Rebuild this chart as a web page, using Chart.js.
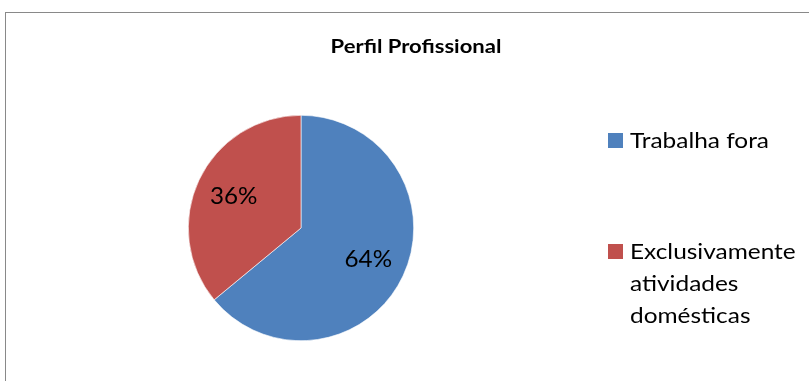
<!DOCTYPE html>
<html>
<head>
<meta charset="utf-8">
<script src="https://cdn.jsdelivr.net/npm/chart.js@4/dist/chart.umd.min.js"></script>
<style>
  html, body { margin: 0; padding: 0; background: #fff; }
  body { width: 809px; height: 381px; position: relative; overflow: hidden; font-family: Lato, "Open Sans", sans-serif; }
  #frame { position: absolute; left: 5px; top: 12px; width: 830px; height: 400px; border: 1px solid #898989; box-sizing: border-box; }
  #chart { position: absolute; left: 0; top: 0; width: 809px; height: 381px; }
  #title { position: absolute; left: 0; width: 832px; top: 34px; text-align: center; font-weight: bold; font-size: 19.5px; color: #000; transform: scaleX(1.13); transform-origin: 416px 0; }
  #legend { position: absolute; left: 608px; top: 0; }
  .item { position: absolute; white-space: nowrap; font-size: 22px; line-height: 32px; color: #000; }
  .box { position: absolute; left: 0; width: 15px; height: 15px; }
  .txt { position: absolute; left: 22px; top: 0; transform: scaleX(1.11); transform-origin: 0 0; }
</style>
</head>
<body>
<div id="frame"></div>
<div id="chart"><canvas id="pie" width="809" height="381"></canvas></div>
<div id="title"></div>
<div id="legend"></div>
<script>
    // ------------------------------------------------------------------
    // Data
    // ------------------------------------------------------------------
    const chartTitle = 'Perfil Profissional';
    const categories = ['Trabalha fora', 'Exclusivamente atividades domésticas'];
    const legendLines = [['Trabalha fora'], ['Exclusivamente', 'atividades', 'domésticas']];
    const shares = [64, 36];
    const colors = ['#4F81BD', '#C0504D'];

    // ------------------------------------------------------------------
    // Percent labels inside the slices
    // ------------------------------------------------------------------
    const sliceLabels = {
        id: 'sliceLabels',
        afterDatasetsDraw(chart) {
            const ctx = chart.ctx;
            const meta = chart.getDatasetMeta(0);
            const total = shares.reduce((a, b) => a + b, 0);
            meta.data.forEach((arc, i) => {
                const p = arc.getProps(['x', 'y', 'startAngle', 'endAngle', 'outerRadius'], true);
                const mid = (p.startAngle + p.endAngle) / 2;
                const r = p.outerRadius * 0.66;
                const pct = Math.round(shares[i] / total * 100) + '%';
                ctx.save();
                ctx.translate(p.x + Math.cos(mid) * r, p.y + Math.sin(mid) * r);
                ctx.scale(1.03, 1);
                ctx.font = '23.5px Lato, "Open Sans", sans-serif';
                ctx.fillStyle = '#000';
                ctx.textAlign = 'center';
                ctx.textBaseline = 'middle';
                ctx.fillText(pct, 0, 0);
                ctx.restore();
            });
        }
    };

    new Chart(document.getElementById('pie'), {
        type: 'pie',
        data: {
            labels: categories,
            datasets: [{
                data: shares,
                backgroundColor: colors,
                borderColor: '#ffffff',
                borderWidth: 0.6
            }]
        },
        options: {
            responsive: false,
            animation: false,
            layout: { padding: { left: 188, right: 395, top: 115, bottom: 40 } },
            plugins: {
                legend: { display: false },
                tooltip: { enabled: false },
                title: { display: false }
            }
        },
        plugins: [sliceLabels]
    });

    // ------------------------------------------------------------------
    // Title and legend (HTML)
    // ------------------------------------------------------------------
    document.getElementById('title').textContent = chartTitle;

    const legendTops = [124, 235];
    const legend = document.getElementById('legend');
    legendLines.forEach((lines, i) => {
        const item = document.createElement('div');
        item.className = 'item';
        item.style.top = legendTops[i] + 'px';
        const box = document.createElement('div');
        box.className = 'box';
        box.style.top = '9px';
        box.style.background = colors[i];
        const txt = document.createElement('div');
        txt.className = 'txt';
        txt.innerHTML = lines.join('<br>');
        item.appendChild(box);
        item.appendChild(txt);
        legend.appendChild(item);
    });
</script>
</body>
</html>
